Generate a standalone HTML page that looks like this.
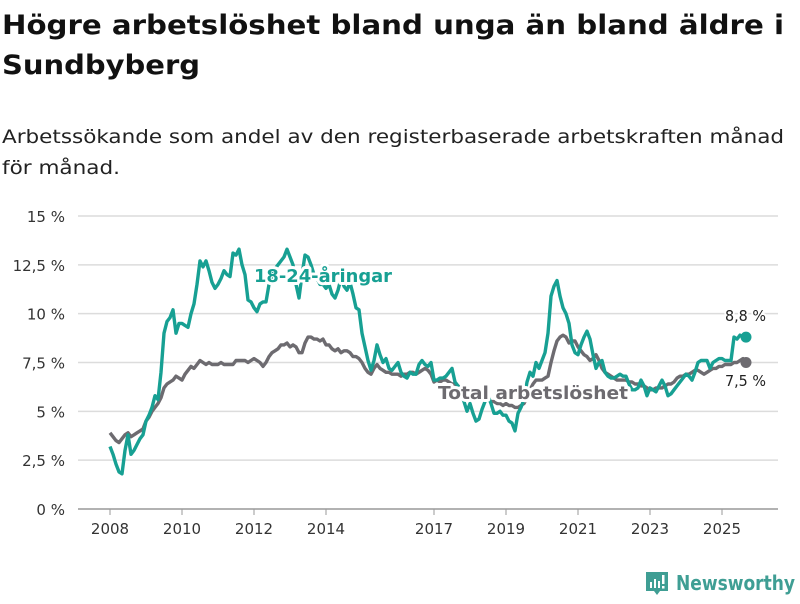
<!DOCTYPE html>
<html><head><meta charset="utf-8">
<style>
html,body{margin:0;padding:0;background:#fff;}
body{width:800px;height:600px;overflow:hidden;font-family:"DejaVu Sans","Liberation Sans",sans-serif;}
</style></head>
<body>
<svg id="chart" width="800" height="600" xmlns="http://www.w3.org/2000/svg" font-family="DejaVu Sans, Liberation Sans, sans-serif">
<text x="2" y="34" font-size="27" font-weight="bold" fill="#111" textLength="782" lengthAdjust="spacingAndGlyphs">Högre arbetslöshet bland unga än bland äldre i</text>
<text x="2" y="74" font-size="27" font-weight="bold" fill="#111" textLength="198" lengthAdjust="spacingAndGlyphs">Sundbyberg</text>
<text x="2" y="143" font-size="19" fill="#222" textLength="782" lengthAdjust="spacingAndGlyphs">Arbetssökande som andel av den registerbaserade arbetskraften månad</text>
<text x="2" y="174" font-size="19" fill="#222" textLength="118" lengthAdjust="spacingAndGlyphs">för månad.</text>
<g id="grid"></g><g id="axes"></g><g id="series"></g><g id="labels"></g>
<g>
<path d="M646 572 h22 v19 h-8 l-3 4 l-3 -4 h-8 z" fill="#3f9e94"/>
<rect x="650" y="582" width="2" height="6" fill="#fff"/><rect x="654" y="579" width="2" height="9" fill="#fff"/><rect x="658" y="581" width="2" height="7" fill="#fff"/><rect x="662" y="575" width="2.5" height="9" fill="#fff"/><rect x="662" y="586" width="2.5" height="2.5" fill="#fff"/>
<text x="676" y="590" font-size="20" font-weight="bold" fill="#3f9e94" textLength="119" lengthAdjust="spacingAndGlyphs">Newsworthy</text>
</g>
</svg>
<script>
const yTicks=[0,2.5,5,7.5,10,12.5,15];
const yTickLabels=["0 %","2,5 %","5 %","7,5 %","10 %","12,5 %","15 %"];
const xTickYears=[2008,2010,2012,2014,2017,2019,2021,2023,2025];
const startYear=2008;
const totalValues=[
3.9,3.7,3.5,3.4,3.6,3.8,3.9,3.7,3.8,3.9,4.0,4.1,
4.5,4.7,5.0,5.2,5.4,5.7,6.2,6.4,6.5,6.6,6.8,6.7,
6.6,6.9,7.1,7.3,7.2,7.4,7.6,7.5,7.4,7.5,7.4,7.4,
7.4,7.5,7.4,7.4,7.4,7.4,7.6,7.6,7.6,7.6,7.5,7.6,
7.7,7.6,7.5,7.3,7.5,7.8,8.0,8.1,8.2,8.4,8.4,8.5,
8.3,8.4,8.3,8.0,8.0,8.5,8.8,8.8,8.7,8.7,8.6,8.7,
8.4,8.4,8.2,8.1,8.2,8.0,8.1,8.1,8.0,7.8,7.8,7.7,
7.5,7.2,7.0,6.9,7.2,7.4,7.2,7.1,7.0,7.0,6.9,6.9,
6.9,6.8,6.9,6.9,7.0,7.0,6.9,7.0,7.1,7.2,7.1,6.9,
6.5,6.6,6.5,6.6,6.6,6.5,6.4,6.4,6.3,6.2,6.2,6.0,
6.0,5.9,5.8,5.8,5.7,5.6,5.6,5.5,5.5,5.4,5.4,5.3,
5.4,5.3,5.3,5.2,5.2,5.3,5.4,5.7,6.1,6.4,6.6,6.6,
6.6,6.7,6.8,7.5,8.1,8.6,8.8,8.9,8.8,8.5,8.6,8.6,
8.3,8.1,7.9,7.8,7.6,7.7,7.9,7.6,7.2,7.0,6.9,6.8,
6.7,6.6,6.6,6.6,6.6,6.5,6.5,6.4,6.4,6.3,6.3,6.2,
6.1,6.1,6.2,6.2,6.2,6.3,6.4,6.4,6.5,6.7,6.8,6.8,
6.9,6.9,7.0,7.1,7.1,7.0,6.9,7.0,7.1,7.2,7.2,7.3,
7.3,7.4,7.4,7.4,7.5,7.5,7.6,7.7,7.5];
const youthValues=[
3.2,2.8,2.3,1.9,1.8,3.0,3.8,2.8,3.0,3.3,3.6,3.8,
4.5,4.8,5.2,5.8,5.6,7.0,9.0,9.6,9.8,10.2,9.0,9.5,
9.5,9.4,9.3,10.0,10.5,11.5,12.7,12.4,12.7,12.2,11.6,11.3,
11.5,11.8,12.2,12.0,11.9,13.1,13.0,13.3,12.5,12.0,10.7,10.6,
10.3,10.1,10.5,10.6,10.6,11.5,12.0,12.3,12.5,12.7,12.9,13.3,
12.9,12.5,11.5,10.8,12.0,13.0,12.9,12.5,12.0,11.8,11.5,11.5,
11.3,11.5,11.0,10.8,11.2,11.8,11.4,11.2,11.6,11.0,10.3,10.2,
9.0,8.3,7.6,7.1,7.6,8.4,7.9,7.5,7.7,7.2,7.1,7.3,
7.5,7.0,6.8,6.7,7.0,6.9,6.9,7.4,7.6,7.4,7.3,7.5,
6.6,6.6,6.7,6.7,6.8,7.0,7.2,6.5,6.3,5.9,5.5,5.0,
5.4,4.9,4.5,4.6,5.1,5.5,5.8,5.4,4.9,4.9,5.0,4.8,
4.8,4.5,4.4,4.0,4.9,5.2,5.6,6.5,7.0,6.8,7.5,7.2,
7.6,8.0,9.0,10.9,11.4,11.7,10.9,10.3,10.0,9.5,8.4,8.0,
7.9,8.4,8.8,9.1,8.7,7.9,7.2,7.5,7.6,7.0,6.8,6.7,
6.7,6.8,6.9,6.8,6.8,6.4,6.1,6.1,6.2,6.6,6.3,5.8,
6.2,6.1,6.0,6.3,6.6,6.3,5.8,5.9,6.1,6.3,6.5,6.7,
6.9,6.8,6.6,7.0,7.5,7.6,7.6,7.6,7.2,7.5,7.6,7.7,
7.7,7.6,7.6,7.6,8.8,8.7,8.9,8.8,8.8];
const youthLabel="18-24-åringar", totalLabel="Total arbetslöshet";
const youthEndLabel="8,8 %", totalEndLabel="7,5 %";

const NS="http://www.w3.org/2000/svg";
const X0=78,X1=778,Y0=509,Y1=216;
function yScale(v){return Y0-(v/15)*(Y0-Y1);}
function xMonth(i){return 110+3*i;}
function xYear(y){return xMonth((y-startYear)*12);}
function mk(tag,attrs,parent){const e=document.createElementNS(NS,tag);for(const k in attrs)e.setAttribute(k,attrs[k]);parent.appendChild(e);return e;}
const grid=document.getElementById('grid'),axes=document.getElementById('axes'),series=document.getElementById('series'),labels=document.getElementById('labels');
yTicks.forEach((t,i)=>{
  const l=mk('line',{x1:X0,x2:X1,y1:yScale(t),y2:yScale(t),stroke:i===0?'#999':'#dcdcdc','stroke-width':1.5},grid);
  
  
  const tx=mk('text',{x:65,y:yScale(t)+6,'font-size':15,'text-anchor':'end',fill:'#333'},axes);
  tx.textContent=yTickLabels[i];
  
  
});
xTickYears.forEach(y=>{
  const tk=mk('line',{x1:xYear(y),x2:xYear(y),y1:Y0,y2:Y0+6,stroke:'#999','stroke-width':1},axes);
  
  
  const tx=mk('text',{x:xYear(y),y:534,'font-size':15,'text-anchor':'middle',fill:'#333'},axes);
  tx.textContent=y;
  
  
});
function path(vals){return vals.map((v,i)=>(i?'L':'M')+xMonth(i)+' '+yScale(v).toFixed(1)).join(' ');}
const pt=mk('path',{d:path(totalValues),fill:'none',stroke:'#6d6b70','stroke-width':3.4,'stroke-linejoin':'round'},series);


const py=mk('path',{d:path(youthValues),fill:'none',stroke:'#17a093','stroke-width':3.4,'stroke-linejoin':'round'},series);


const lt=totalValues.length-1, ly=youthValues.length-1;
const dt=mk('circle',{cx:xMonth(lt),cy:yScale(totalValues[lt]),r:5.5,fill:'#6d6b70'},series);


const dy=mk('circle',{cx:xMonth(ly),cy:yScale(youthValues[ly]),r:5.5,fill:'#17a093'},series);


function lab(txt,x,y,size,weight,color,len){
  const t=mk('text',{x:x,y:y,'font-size':size,'font-weight':weight,fill:color,stroke:'#fff','stroke-width':weight==='bold'?6:4,'paint-order':'stroke','stroke-linejoin':'round',textLength:len,lengthAdjust:'spacingAndGlyphs'},labels);
  t.textContent=txt;
  return t;
}
const l1=lab(youthLabel,254,282,18,'bold','#17a093',138);


const l2=lab(totalLabel,438,399,18,'bold','#6d6b70',190);


const l3=lab(youthEndLabel,725,321,15,'normal','#222',41);


const l4=lab(totalEndLabel,725,386,15,'normal','#222',41);


</script>
</body></html>
